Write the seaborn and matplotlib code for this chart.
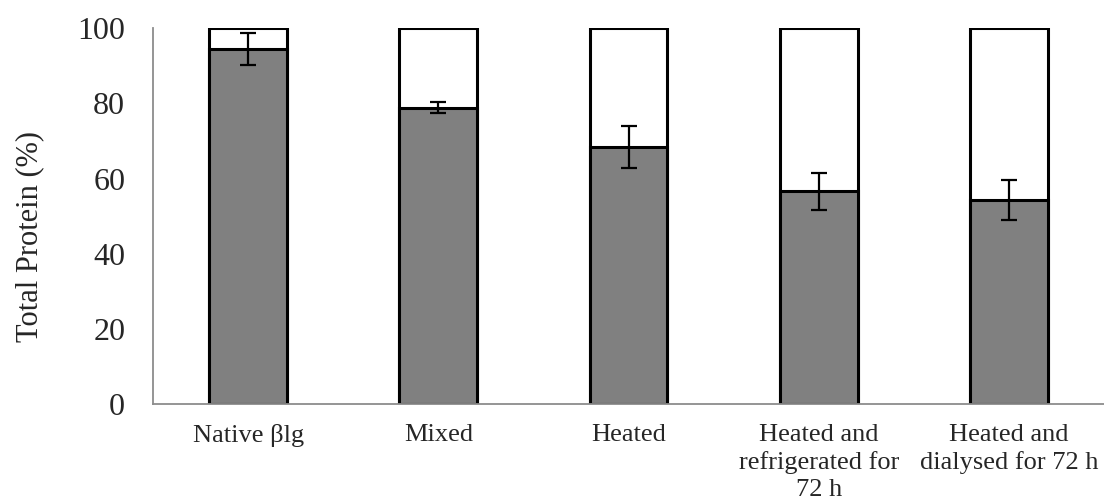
import matplotlib
matplotlib.use("Agg")
import matplotlib.pyplot as plt
import seaborn as sns
import pandas as pd
import numpy as np

# Protein fractions for each treatment
categories = ["Native \u03b2lg", "Mixed", "Heated",
              "Heated and\nrefrigerated for\n72 h", "Heated and\ndialysed for 72 h"]
protein_pct = [94.5, 78.9, 68.3, 56.6, 54.3]
protein_err = [4.3, 1.4, 5.6, 4.9, 5.2]
total_pct = [100, 100, 100, 100, 100]
y_ticks = [0, 20, 40, 60, 80, 100]

df = pd.DataFrame({"treatment": categories,
                   "protein": protein_pct,
                   "err": protein_err,
                   "total": total_pct})

sns.set_style("white")
plt.rcParams["font.family"] = ["Liberation Serif", "DejaVu Serif"]

fig = plt.figure(figsize=(11.04, 5.04), dpi=100)
ax = fig.add_axes([0.1386, 0.198, 0.8614, 0.746])

bar_w = 0.41
edge_lw = 2.2

# full-height white bar behind the grey fraction
sns.barplot(data=df, x="treatment", y="total", color="white",
            edgecolor="black", linewidth=edge_lw, width=bar_w,
            saturation=1, ax=ax, errorbar=None)
sns.barplot(data=df, x="treatment", y="protein", color="#808080",
            edgecolor="black", linewidth=edge_lw, width=bar_w,
            saturation=1, ax=ax, errorbar=None)

xpos = np.arange(len(categories))
ax.errorbar(xpos, df["protein"], yerr=df["err"], fmt="none",
            ecolor="black", elinewidth=1.6, capsize=6, capthick=1.6,
            zorder=5)

ax.set_xlim(-0.5, len(categories) - 0.5)
ax.set_ylim(0, 100)
ax.set_yticks(y_ticks)
ax.set_xlabel("")
ax.set_ylabel("Total Protein (%)", fontsize=22)
ax.yaxis.set_label_coords(-0.114, 0.447)

for side in ("top", "right"):
    ax.spines[side].set_visible(False)
for side in ("left", "bottom"):
    ax.spines[side].set_color("#8c8c8c")
    ax.spines[side].set_linewidth(1.3)

ax.tick_params(axis="y", which="major", direction="out", length=6,
               width=1.3, color="#8c8c8c", labelsize=23, pad=14)
ax.tick_params(axis="x", which="major", length=0, labelsize=19, pad=14)
ax.set_xticks(np.arange(-0.5, len(categories)), minor=True)
ax.tick_params(axis="x", which="minor", direction="out", length=6,
               width=1.3, color="#8c8c8c")
for lbl in ax.get_xticklabels():
    lbl.set_linespacing(1.3)

fig.savefig("out.png", dpi=100)
